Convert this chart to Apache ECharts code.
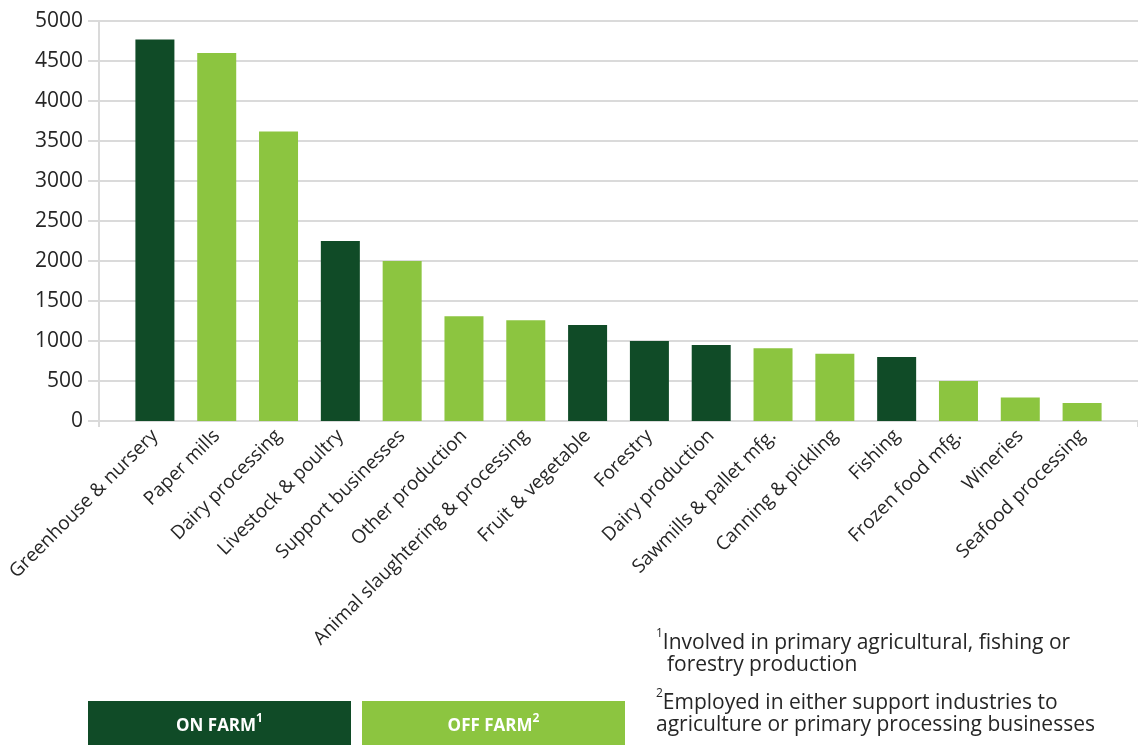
<!DOCTYPE html>
<html>
<head>
<meta charset="utf-8">
<script src="https://cdn.jsdelivr.net/npm/echarts@6/dist/echarts.min.js"></script>
<style>
html,body{margin:0;padding:0;background:#fff;}
#chart{width:1138px;height:745px;}
</style>
</head>
<body>
<div id="chart"></div>
<script>
const categories = ["Greenhouse & nursery","Paper mills","Dairy processing","Livestock & poultry","Support businesses","Other production","Animal slaughtering & processing","Fruit & vegetable","Forestry","Dairy production","Sawmills & pallet mfg.","Canning & pickling","Fishing","Frozen food mfg.","Wineries","Seafood processing"];
const values = [4770,4600,3620,2250,2000,1310,1260,1200,1000,950,910,840,800,500,295,225];
const farmType = ["on","off","off","on","off","off","off","on","on","on","off","off","on","off","off","off"];
const yTicks = {min:0, max:5000, interval:500};
const DARK = "#104b27", LIGHT = "#8cc540", GRID = "#dadada", TEXT = "#262626";
const FONT = "'Open Sans', sans-serif";

const onFarm = values.map((v,i)=> farmType[i]==="on" ? v : '-');
const offFarm = values.map((v,i)=> farmType[i]==="off" ? v : '-');

const chart = echarts.init(document.getElementById('chart'), null, {renderer:'canvas'});
chart.setOption({
  animation:false,
  textStyle:{fontFamily:FONT},
  grid:[
    {left:99, right:-4, top:21, bottom:324},
    {left:124, right:25, top:21, bottom:324}
  ],
  xAxis:[
    {gridIndex:0, type:'category', data:[''], boundaryGap:true,
     axisLine:{show:false}, axisLabel:{show:false},
     axisTick:{show:true, length:6, lineStyle:{color:GRID, width:2}}},
    {gridIndex:1, type:'category', data:categories,
     axisLine:{show:false}, axisTick:{show:false},
     axisLabel:{interval:0, rotate:45, margin:12, fontSize:19, color:TEXT, fontFamily:FONT}}
  ],
  yAxis:[
    {gridIndex:0, type:'value', min:yTicks.min, max:yTicks.max, interval:yTicks.interval,
     axisLine:{show:true, lineStyle:{color:GRID, width:2}},
     axisTick:{show:true, length:11, lineStyle:{color:GRID, width:2}},
     splitLine:{show:true, lineStyle:{color:GRID, width:2}},
     axisLabel:{fontSize:21, color:TEXT, margin:16, fontFamily:FONT, formatter:(v)=>String(v)}},
    {gridIndex:1, type:'value', min:yTicks.min, max:yTicks.max, interval:yTicks.interval, show:false}
  ],
  series:[
    {name:'ON FARM', type:'bar', xAxisIndex:1, yAxisIndex:1, stack:'farm', barWidth:39,
     data:onFarm, itemStyle:{color:DARK}, z:3},
    {name:'OFF FARM', type:'bar', xAxisIndex:1, yAxisIndex:1, stack:'farm', barWidth:39,
     data:offFarm, itemStyle:{color:LIGHT}, z:3}
  ],
  graphic:[
    {type:'rect', left:88, top:701, shape:{width:263, height:44}, style:{fill:DARK}},
    {type:'rect', left:362, top:701, shape:{width:263, height:44}, style:{fill:LIGHT}},
    {type:'text', x:219.5, y:724, style:{
      text:'{t|ON FARM}{s|1}', align:'center', verticalAlign:'middle',
      rich:{t:{fontSize:17, fontWeight:'bold', fill:'#fff', fontFamily:FONT, lineHeight:22, verticalAlign:'bottom'},
            s:{fontSize:12, fontWeight:'bold', fill:'#fff', fontFamily:FONT, lineHeight:22, verticalAlign:'top'}}}},
    {type:'text', x:493.5, y:724, style:{
      text:'{t|OFF FARM}{s|2}', align:'center', verticalAlign:'middle',
      rich:{t:{fontSize:17, fontWeight:'bold', fill:'#fff', fontFamily:FONT, lineHeight:22, verticalAlign:'bottom'},
            s:{fontSize:12, fontWeight:'bold', fill:'#fff', fontFamily:FONT, lineHeight:22, verticalAlign:'top'}}}},
    {type:'text', x:656, y:641, style:{
      text:'{s|1}{t|Involved in primary agricultural, fishing or}', verticalAlign:'middle',
      rich:{t:{fontSize:21, fill:TEXT, fontFamily:FONT, lineHeight:26, verticalAlign:'bottom'},
            s:{fontSize:12, fill:TEXT, fontFamily:FONT, lineHeight:26, verticalAlign:'top'}}}},
    {type:'text', x:667, y:665, style:{
      text:'forestry production', verticalAlign:'middle', fontSize:21, fill:TEXT, fontFamily:FONT}},
    {type:'text', x:656, y:701, style:{
      text:'{s|2}{t|Employed in either support industries to}', verticalAlign:'middle',
      rich:{t:{fontSize:21, fill:TEXT, fontFamily:FONT, lineHeight:26, verticalAlign:'bottom'},
            s:{fontSize:12, fill:TEXT, fontFamily:FONT, lineHeight:26, verticalAlign:'top'}}}},
    {type:'text', x:656, y:725, style:{
      text:'agriculture or primary processing businesses', verticalAlign:'middle', fontSize:21, fill:TEXT, fontFamily:FONT}}
  ]
});
</script>
</body>
</html>
